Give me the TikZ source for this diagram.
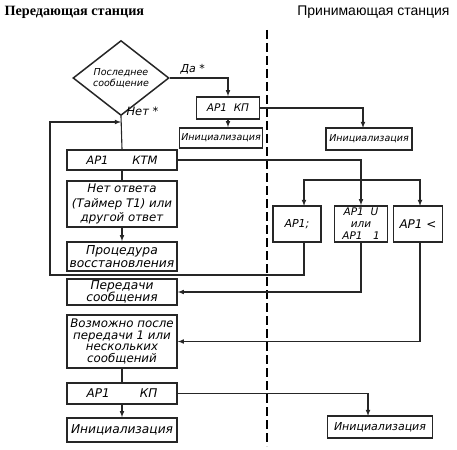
\documentclass[tikz,border=0pt]{standalone}
\usepackage{fontspec}
\setmainfont{Liberation Sans}
\newfontfamily\titlefont{Liberation Serif}
\newfontfamily\boxfont{DejaVu Sans}
\usetikzlibrary{arrows,shapes.geometric}
\colorlet{linec}{black!85}
\newcommand{\bsz}[2]{\boxfont\itshape\fontsize{#1}{#2}\selectfont}

\begin{document}
\begin{tikzpicture}[x=1pt,y=-1pt,>=latex,
  blk/.style={draw=linec,line width=1.6pt,minimum width=110pt,inner sep=0pt,align=center,
    font=\bsz{11}{13}},
  dec/.style={draw=linec,line width=1.5pt,diamond,minimum width=96pt,minimum height=51pt,
    inner sep=0pt,align=center,font=\bsz{9.5}{11}},
  con/.style={draw=linec,line width=1.1pt},
  lbl/.style={font=\bsz{11}{12}}]
\useasboundingbox (0,0) rectangle (457,449);

\node[anchor=west,font=\titlefont\bfseries\fontsize{14.2}{16}\selectfont] (tleft) at (1,12) {Передающая станция};
\node[anchor=east,font=\fontsize{14}{16}\selectfont] (tright) at (453,12) {Принимающая станция};
\draw[line width=1.3pt,dash pattern=on 9pt off 4pt] (267,30) -- (267,446);

\node[dec] (last) at (121,78) {Последнее\\сообщение};
\node[blk,minimum width=63pt,minimum height=22pt,font=\bsz{10.5}{12}] (kpa) at (228,108) {АР1\ \ КП};
\node[blk,minimum width=83pt,minimum height=20pt,font=\bsz{9.5}{11}] (inia) at (221,138) {Инициализация};
\node[blk,minimum width=86pt,minimum height=22pt,font=\bsz{9.5}{11}] (inib) at (369,139) {Инициализация};
\node[blk,minimum height=20pt,font=\bsz{11.5}{13}] (ktm) at (122,160) {АР1\hspace{24pt}КТМ};
\node[blk,minimum height=46pt,font=\bsz{11.8}{14.5}] (noans) at (122,204) {Нет ответа\\(Таймер Т1) или\\другой ответ};
\node[blk,minimum height=29pt,font=\bsz{12.3}{13.5}] (proc) at (122,256.5) {Процедура\\восстановления};
\node[blk,minimum height=26pt,font=\bsz{12.2}{12.5}] (send) at (122,292) {Передачи\\сообщения};
\node[blk,minimum height=53pt,font=\bsz{11.8}{11.8}] (maybe) at (122,341.5) {Возможно после\\передачи 1 или\\нескольких\\сообщений};
\node[blk,minimum height=21pt,font=\bsz{12}{13}] (kpb) at (122,393.5) {АР1\hspace{30pt}КП};
\node[blk,minimum height=24pt,font=\bsz{12.2}{14}] (inic) at (122,430) {Инициализация};
\node[blk,minimum width=48pt,minimum height=36pt] (apsemi) at (297,224) {АР1;};
\node[blk,minimum width=53pt,minimum height=36pt,font=\bsz{10.5}{12}] (apu) at (361,224) {АР1\ \ U\\или\\АР1\quad 1};
\node[blk,minimum width=49pt,minimum height=36pt,font=\bsz{12}{13}] (apless) at (418,224) {АР1 <};
\node[blk,minimum width=105pt,minimum height=22pt] (inid) at (380,427) {Инициализация};

\node[lbl,anchor=south west] (yes) at (177,78) {Да *};
\node[lbl,anchor=west,font=\bsz{11.5}{12}] (no) at (123,111) {Нет *};

\coordinate (loop) at (121,122);
\draw[con,->] (last.east) -| (kpa.north);
\draw[con,->] (kpa.south) -- (kpa.south |- inia.north);
\draw[con,->] (kpa.east) -| (363,128);
\draw[con] (last.south) -- (ktm.north);
\draw[con,->] (apsemi.south -| 304,0) |- (50,275) |- (loop);
\draw[con,->] (ktm.east) -| (apu.north);
\draw[con,->] (360,180) -| (304,206);
\draw[con,->] (360,180) -| (420,206);
\draw[con,->] (apu.south) |- (send.east);
\draw[con,->] (apless.south -| 420,0) |- (maybe.east);
\draw[con] (ktm.south) -- (noans.north);
\draw[con,->] (noans.south) -- (proc.north);
\draw[con] (maybe.south) -- (kpb.north);
\draw[con,->] (kpb.south) -- (inic.north);
\draw[con,->] (kpb.east) -| (368,416);
\end{tikzpicture}
\end{document}
